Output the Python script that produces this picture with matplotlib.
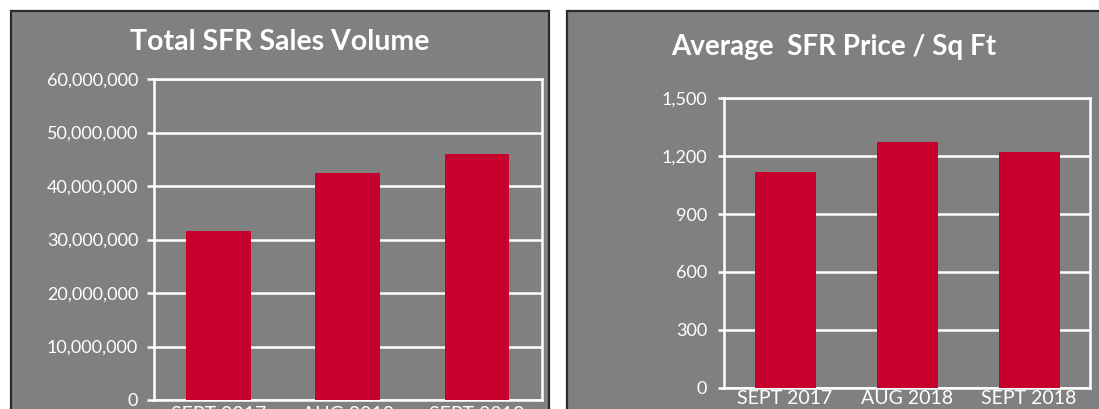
import matplotlib.pyplot as plt
from matplotlib.patches import Rectangle
from matplotlib.ticker import FuncFormatter
import numpy as np

# data
months = ['SEPT 2017', 'AUG 2018', 'SEPT 2018']
sales_volume = [31500000, 42500000, 45900000]
price_sqft = [1116, 1275, 1223]
volume_ticks = [0, 10000000, 20000000, 30000000, 40000000, 50000000, 60000000]
price_ticks = [0, 300, 600, 900, 1200, 1500]

bg = '#808080'
bar_col = '#c8002d'
plt.rcParams['font.family'] = ['Lato', 'DejaVu Sans']

fig = plt.figure(figsize=(10.99, 4.09), dpi=100)
fig.patch.set_facecolor('white')

# grey panels with dark borders (behind the axes)
for x0, x1 in [(10.5, 548.5), (566.5, 1101)]:
    fig.patches.append(Rectangle((x0 / 1099, -0.05), (x1 - x0) / 1099, 1.05 - 11.5 / 409,
                                 transform=fig.transFigure, facecolor=bg,
                                 edgecolor='#2b2b2b', linewidth=1.6, zorder=-5))


def style_axes(ax, ticks, values, ymax, xpad, ypad, ticklen):
    x = np.arange(len(months))
    ax.set_facecolor(bg)
    ax.bar(x, values, width=0.5, color=bar_col, zorder=3)
    ax.set_xlim(-0.5, len(months) - 0.5)
    ax.set_ylim(0, ymax)
    ax.set_yticks(ticks)
    ax.yaxis.set_major_formatter(FuncFormatter(lambda v, p: f'{int(v):,}'))
    ax.set_xticks(x)
    ax.set_xticklabels(months)
    ax.grid(axis='y', color='white', linewidth=1.8, zorder=1)
    for s in ax.spines.values():
        s.set_color('white')
        s.set_linewidth(1.8)
    ax.tick_params(axis='y', colors='white', length=ticklen, width=1.8,
                   pad=ypad, labelsize=13)
    ax.tick_params(axis='x', colors='white', length=0, pad=xpad, labelsize=14)


ax1 = fig.add_axes([153.5 / 1099, 1 - 400 / 409, (541.8 - 153.5) / 1099, (400 - 79) / 409])
style_axes(ax1, volume_ticks, sales_volume, 60000000, 4, 6, 5)
fig.text(280 / 1099, 1 - 42 / 409, 'Total SFR Sales Volume', color='white',
         fontsize=20.5, fontweight='bold', ha='center', va='center')

ax2 = fig.add_axes([724 / 1099, 1 - 387.7 / 409, (1090 - 724) / 1099, (387.7 - 98.3) / 409])
style_axes(ax2, price_ticks, price_sqft, 1500, 1.5, 7.5, 4.5)
fig.text(834 / 1099, 1 - 46.5 / 409, 'Average  SFR Price / Sq Ft', color='white',
         fontsize=20, fontweight='bold', ha='center', va='center')

fig.savefig('out.png', dpi=100)
